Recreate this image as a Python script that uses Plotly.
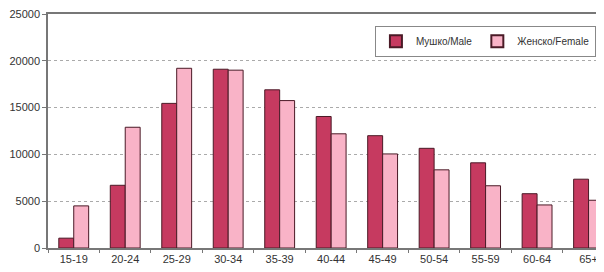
import plotly.graph_objects as go

categories = ["15-19", "20-24", "25-29", "30-34", "35-39", "40-44",
              "45-49", "50-54", "55-59", "60-64", "65+"]
male = [1050, 6700, 15450, 19100, 16900, 14050, 12000, 10650, 9100, 5800, 7350]
female = [4500, 12900, 19200, 19000, 15750, 12200, 10050, 8350, 6650, 4600, 5100]
y_ticks = [0, 5000, 10000, 15000, 20000, 25000]
y_tick_labels = ["0", "5000", "10000", "15000", "20000", "25000"]

fig = go.Figure()
fig.add_trace(go.Bar(x=categories, y=male, name="Мушко/Male",
                     marker=dict(color="#C63A60", line=dict(color="#4a1a26", width=1))))
fig.add_trace(go.Bar(x=categories, y=female, name="Женско/Female",
                     marker=dict(color="#F9B3C7", line=dict(color="#4a1a26", width=1))))

fig.update_layout(
    width=604, height=272,
    margin=dict(l=40, r=8, t=6, b=32, autoexpand=False),
    paper_bgcolor="white", plot_bgcolor="white",
    barmode="group", bargap=0.42, bargroupgap=0,
    font=dict(family="Liberation Sans, Arial, sans-serif", size=11, color="#333333"),
    showlegend=True,
    legend=dict(orientation="h", x=0.588, y=0.95, xanchor="left", yanchor="top",
                bordercolor="#888888", borderwidth=1, bgcolor="white",
                font=dict(size=10, color="#333333"),
                itemwidth=30, tracegroupgap=0,
                itemsizing="constant", traceorder="normal"),
)
fig.update_xaxes(range=[-0.5, 10.3], showline=True, linecolor="#777777", linewidth=1.5,
                 mirror=True, ticks="outside", tickson="boundaries", ticklen=3,
                 tickcolor="#777777", showgrid=False, fixedrange=True, automargin=False,
                 ticklabeloverflow="allow")
fig.update_yaxes(range=[0, 25000], tickvals=y_ticks, ticktext=y_tick_labels,
                 showline=True, linecolor="#777777", automargin=False,
                 linewidth=1.5, ticks="outside", ticklen=4, tickcolor="#777777",
                 showgrid=True, gridcolor="#aaaaaa", griddash="3px,3px", gridwidth=1,
                 zeroline=False, ticklabeloverflow="allow")

fig.write_html("out.html")
